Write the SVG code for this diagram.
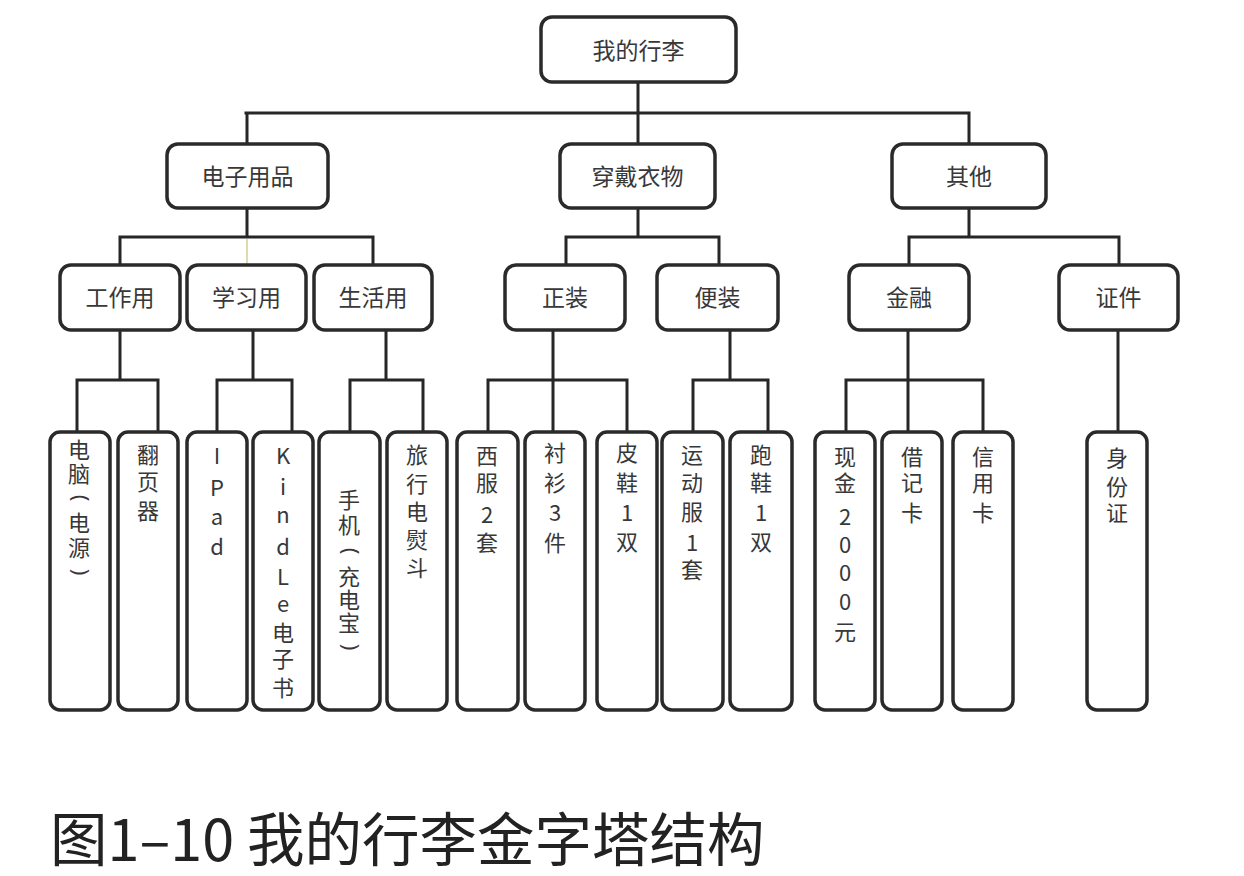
<svg xmlns="http://www.w3.org/2000/svg" width="1244" height="876" viewBox="0 0 1244 876">
<style>
.box{fill:#ffffff;stroke:#2a2a2a;stroke-width:3.5}
.lbl{font-family:"Noto Sans CJK SC","Noto Sans",sans-serif;font-size:23px;fill:#383838;text-anchor:middle}
.leaf{font-family:"Noto Sans CJK SC","Noto Sans",sans-serif;font-size:22px;fill:#383838;text-anchor:middle}
.par{font-family:"Noto Sans","Noto Sans CJK SC",sans-serif;font-size:22px;fill:#383838;text-anchor:middle}
.ln{fill:none;stroke:#262626;stroke-width:3;stroke-linejoin:miter;stroke-linecap:square}
.faint{fill:none;stroke:#dcdcb0;stroke-width:2}
.cap{font-family:"Noto Sans CJK SC","Noto Sans",sans-serif;font-size:57.5px;fill:#222222}
</style>
<rect width="1244" height="876" fill="#ffffff"/>
<g id="connectors">
<path class="ln" d="M638 82V113M246 113H969M247 113V144M638 113V144M969 113V144"/>
<path class="ln" d="M247 208V237M120 237H373M120 237V265M373 237V265"/>
<path class="faint" d="M247 239V264"/>
<path class="ln" d="M638 208V237M566 237H719M566 237V265M719 237V265"/>
<path class="ln" d="M969 208V237M909 237H1119M909 237V265M1119 237V265"/>
<path class="ln" d="M120 330V380M77 380H158M77 380V432M158 380V432"/>
<path class="ln" d="M253 330V380M217 380H292M217 380V432M292 380V432"/>
<path class="ln" d="M386 330V380M350 380H423M350 380V432M423 380V432"/>
<path class="ln" d="M553 330V432M488 380H627M488 380V432M627 380V432"/>
<path class="ln" d="M730 330V380M693 380H768M693 380V432M768 380V432"/>
<path class="ln" d="M908 330V432M846 380H983M846 380V432M983 380V432"/>
<path class="ln" d="M1118 330V432"/>
</g>
<g id="root"><rect class="box" x="541" y="17" width="195" height="65" rx="11"/><text class="lbl" x="638.5" y="58.5" font-size="24">我的行李</text></g>
<g id="n-dianzi"><rect class="box" x="167" y="144" width="161" height="64" rx="11"/><text class="lbl" x="247.5" y="185">电子用品</text></g>
<g id="n-chuandai"><rect class="box" x="560" y="144" width="155" height="64" rx="11"/><text class="lbl" x="637.5" y="185">穿戴衣物</text></g>
<g id="n-qita"><rect class="box" x="892" y="144" width="154" height="64" rx="11"/><text class="lbl" x="969" y="185">其他</text></g>
<g id="n-gongzuo"><rect class="box" x="60" y="265" width="120" height="65" rx="11"/><text class="lbl" x="120" y="306">工作用</text></g>
<g id="n-xuexi"><rect class="box" x="187" y="265" width="119" height="65" rx="11"/><text class="lbl" x="246.5" y="306">学习用</text></g>
<g id="n-shenghuo"><rect class="box" x="314" y="265" width="118" height="65" rx="11"/><text class="lbl" x="373" y="306">生活用</text></g>
<g id="n-zhengzhuang"><rect class="box" x="505" y="265" width="120" height="65" rx="11"/><text class="lbl" x="565" y="306">正装</text></g>
<g id="n-bianzhuang"><rect class="box" x="657" y="265" width="121" height="65" rx="11"/><text class="lbl" x="717.5" y="306">便装</text></g>
<g id="n-jinrong"><rect class="box" x="849" y="265" width="120" height="65" rx="11"/><text class="lbl" x="909" y="306">金融</text></g>
<g id="n-zhengjian"><rect class="box" x="1059" y="265" width="119" height="65" rx="11"/><text class="lbl" x="1118.5" y="306">证件</text></g>

<g id="l-diannao"><rect class="box" x="50" y="432" width="60" height="278" rx="10"/>
<text class="leaf"><tspan x="79" y="458">电</tspan><tspan x="79" y="482">脑</tspan><tspan x="79" y="531">电</tspan><tspan x="79" y="556">源</tspan></text>
<text class="par" x="79" y="504" transform="rotate(90 79 498)">(</text>
<text class="par" x="79" y="578" transform="rotate(90 79 572)">)</text></g>
<g id="l-fanye"><rect class="box" x="118" y="432" width="60" height="278" rx="10"/>
<text class="leaf"><tspan x="148" y="463">翻</tspan><tspan x="148" y="490">页</tspan><tspan x="148" y="519">器</tspan></text></g>
<g id="l-ipad"><rect class="box" x="187" y="432" width="60" height="278" rx="10"/>
<text class="leaf"><tspan x="217" y="464">I</tspan><tspan x="217" y="496">P</tspan><tspan x="217" y="525">a</tspan><tspan x="217" y="555">d</tspan></text></g>
<g id="l-kindle"><rect class="box" x="253" y="432" width="60" height="278" rx="10"/>
<text class="leaf"><tspan x="283" y="464">K</tspan><tspan x="283" y="495">i</tspan><tspan x="283" y="523">n</tspan><tspan x="283" y="555">d</tspan><tspan x="283" y="585">L</tspan><tspan x="283" y="612">e</tspan><tspan x="283" y="641">电</tspan><tspan x="283" y="667">子</tspan><tspan x="283" y="696">书</tspan></text></g>
<g id="l-shouji"><rect class="box" x="319" y="432" width="61" height="278" rx="10"/>
<text class="leaf"><tspan x="349" y="508">手</tspan><tspan x="349" y="533">机</tspan><tspan x="349" y="585">充</tspan><tspan x="349" y="608">电</tspan><tspan x="349" y="631">宝</tspan></text>
<text class="par" x="349" y="557" transform="rotate(90 349 551)">(</text>
<text class="par" x="349" y="653" transform="rotate(90 349 647)">)</text></g>
<g id="l-yundou"><rect class="box" x="387" y="432" width="60" height="278" rx="10"/>
<text class="leaf"><tspan x="417" y="463">旅</tspan><tspan x="417" y="492">行</tspan><tspan x="417" y="520">电</tspan><tspan x="417" y="548">熨</tspan><tspan x="417" y="576">斗</tspan></text></g>
<g id="l-xifu"><rect class="box" x="457" y="432" width="61" height="278" rx="10"/>
<text class="leaf"><tspan x="487" y="464">西</tspan><tspan x="487" y="491">服</tspan><tspan x="487" y="523">2</tspan><tspan x="487" y="551">套</tspan></text></g>
<g id="l-chenshan"><rect class="box" x="525" y="432" width="60" height="278" rx="10"/>
<text class="leaf"><tspan x="555" y="461">衬</tspan><tspan x="555" y="491">衫</tspan><tspan x="555" y="521">3</tspan><tspan x="555" y="551">件</tspan></text></g>
<g id="l-pixie"><rect class="box" x="597" y="432" width="60" height="278" rx="10"/>
<text class="leaf"><tspan x="627" y="461">皮</tspan><tspan x="627" y="491">鞋</tspan><tspan x="627" y="521">1</tspan><tspan x="627" y="550">双</tspan></text></g>
<g id="l-yundong"><rect class="box" x="662" y="432" width="61" height="278" rx="10"/>
<text class="leaf"><tspan x="692" y="463">运</tspan><tspan x="692" y="491">动</tspan><tspan x="692" y="520">服</tspan><tspan x="692" y="551">1</tspan><tspan x="692" y="578">套</tspan></text></g>
<g id="l-paoxie"><rect class="box" x="730" y="432" width="62" height="278" rx="10"/>
<text class="leaf"><tspan x="761" y="463">跑</tspan><tspan x="761" y="491">鞋</tspan><tspan x="761" y="521">1</tspan><tspan x="761" y="550">双</tspan></text></g>
<g id="l-xianjin"><rect class="box" x="815" y="432" width="60" height="278" rx="10"/>
<text class="leaf"><tspan x="845" y="465">现</tspan><tspan x="845" y="491">金</tspan><tspan x="845" y="525">2</tspan><tspan x="845" y="553">0</tspan><tspan x="845" y="581">0</tspan><tspan x="845" y="610">0</tspan><tspan x="845" y="640">元</tspan></text></g>
<g id="l-jieji"><rect class="box" x="882" y="432" width="60" height="278" rx="10"/>
<text class="leaf"><tspan x="912" y="465">借</tspan><tspan x="912" y="491">记</tspan><tspan x="912" y="521">卡</tspan></text></g>
<g id="l-xinyong"><rect class="box" x="953" y="432" width="60" height="278" rx="10"/>
<text class="leaf"><tspan x="983" y="465">信</tspan><tspan x="983" y="491">用</tspan><tspan x="983" y="521">卡</tspan></text></g>
<g id="l-shenfen"><rect class="box" x="1087" y="432" width="60" height="278" rx="10"/>
<text class="leaf"><tspan x="1117" y="466">身</tspan><tspan x="1117" y="495">份</tspan><tspan x="1117" y="521">证</tspan></text></g>

<text class="cap" x="50" y="861">图1–10 我的行李金字塔结构</text>
</svg>
